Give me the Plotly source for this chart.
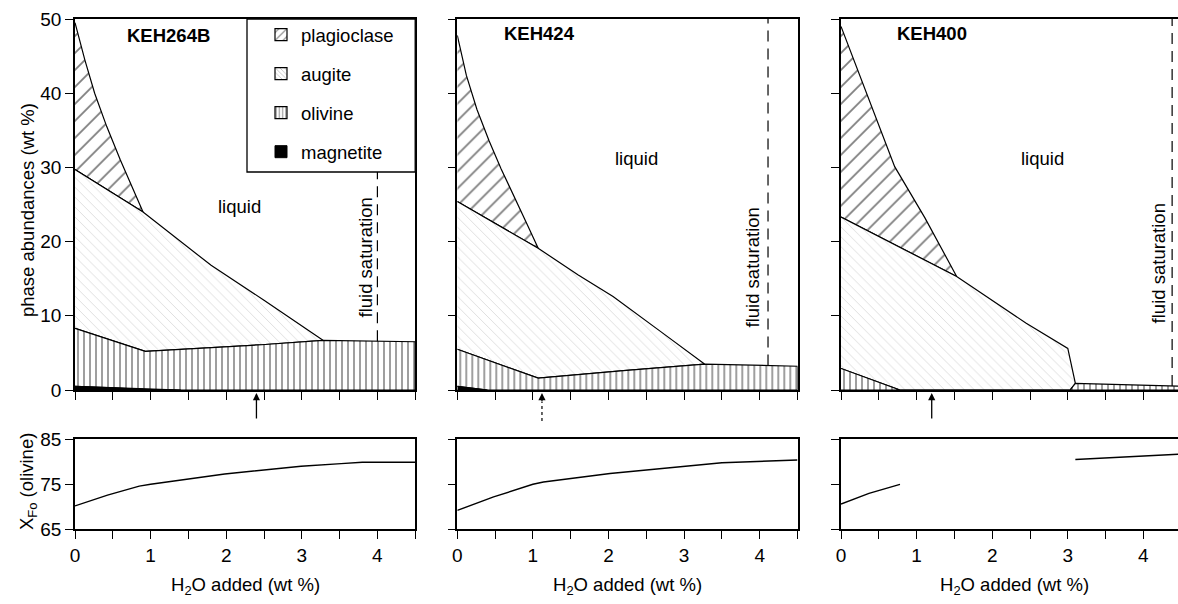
import numpy as np
import plotly.graph_objects as go

W, H = 1178, 604
FONT = "Liberation Sans, Arial, Helvetica, sans-serif"

# ---------------- data ----------------
# KEH264B (panel 1): boundary lines, cumulative wt %
p1_plag_x = [0, 0.13, 0.26, 0.42, 0.60, 0.90]
p1_plag_y = [49.5, 44.5, 40.0, 35.5, 31.0, 24.0]
p1_aug_x = [0, 0.90, 1.80, 2.50, 3.28]
p1_aug_y = [29.7, 24.0, 16.8, 12.1, 6.7]
p1_oli_x = [0, 0.93, 2.47, 3.28, 4.5]
p1_oli_y = [8.3, 5.2, 6.1, 6.7, 6.5]
p1_mag_x = [0, 0.5, 0.9, 1.4]
p1_mag_y = [0.5, 0.3, 0.1, 0.0]

# KEH424 (panel 2)
p2_plag_x = [0, 0.12, 0.26, 0.42, 0.58, 0.76, 0.92, 1.07]
p2_plag_y = [47.8, 42.4, 37.8, 33.6, 29.8, 26.0, 22.4, 19.1]
p2_aug_x = [0, 1.07, 1.60, 2.06, 2.70, 3.27]
p2_aug_y = [25.4, 19.1, 15.5, 12.6, 7.8, 3.5]
p2_oli_x = [0, 1.07, 2.20, 3.27, 4.5]
p2_oli_y = [5.5, 1.6, 2.6, 3.5, 3.2]
p2_mag_x = [0, 0.4]
p2_mag_y = [0.5, 0.0]

# KEH400 (panel 3)
p3_plag_x = [0, 0.35, 0.71, 1.11, 1.53]
p3_plag_y = [49.0, 39.8, 30.1, 23.2, 15.3]
p3_aug_x = [0, 1.53, 2.45, 3.00, 3.10]
p3_aug_y = [23.3, 15.3, 9.0, 5.6, 0.9]
p3_oli_x = [0, 0.78, 3.03, 3.10, 4.5]
p3_oli_y = [2.9, 0.0, 0.0, 0.9, 0.5]

zero_x = [0, 4.5]
zero_y = [0, 0]

# fluid saturation (wt % H2O) and arrow positions
fluid_sat = [4.00, 4.11, 4.38]
arrow_x = [2.40, 1.12, 1.20]

# X_Fo of olivine
fo1_x = [0, 0.43, 0.85, 1.0, 1.98, 2.99, 3.52, 3.8, 4.5]
fo1_y = [70.2, 72.6, 74.6, 75.0, 77.3, 79.0, 79.6, 79.9, 79.9]
fo2_x = [0, 0.48, 1.0, 1.14, 2.02, 3.0, 3.5, 4.5]
fo2_y = [69.2, 72.2, 75.0, 75.5, 77.4, 79.1, 79.8, 80.4]
fo3a_x = [0, 0.37, 0.78]
fo3a_y = [70.6, 73.0, 75.0]
fo3b_x = [3.1, 4.5]
fo3b_y = [80.5, 81.7]

sample_names = ["KEH264B", "KEH424", "KEH400"]
phase_names = ["plagioclase", "augite", "olivine", "magnetite"]
x_ticks = [0, 1, 2, 3, 4]
x_ticktext = ["0", "1", "2", "3", "4"]
y_ticks_top = [0, 10, 20, 30, 40, 50]
y_ticks_bot = [65, 75, 85]

# ---------------- styles ----------------
PAT = {
    "plagioclase": dict(shape="/", size=12, solidity=0.15, fgcolor="black", bgcolor="white"),
    "augite": dict(shape="\\", size=7, solidity=0.09, fgcolor="#9a9a9a", bgcolor="white"),
    "olivine": dict(shape="|", size=6, solidity=0.25, fgcolor="black", bgcolor="white"),
}
PAT_LEG = {
    "plagioclase": dict(shape="/", size=7, solidity=0.2, fgcolor="black", bgcolor="white"),
    "augite": dict(shape="\\", size=4, solidity=0.25, fgcolor="#777777", bgcolor="white"),
    "olivine": dict(shape="|", size=4, solidity=0.3, fgcolor="black", bgcolor="white"),
}


def band(ux, uy, lx, ly):
    x0, x1 = ux[0], ux[-1]
    lxs = [x0] + [x for x in lx if x0 < x < x1] + [x1]
    lys = list(np.interp(lxs, lx, ly))
    return list(ux) + lxs[::-1], list(uy) + lys[::-1]


fig = go.Figure()


def poly(ax, ux, uy, lx, ly, phase):
    px, py = band(ux, uy, lx, ly)
    kw = dict(x=px, y=py, xaxis="x" + ax, yaxis="y" + ax, mode="lines", fill="toself",
              line=dict(color="black", width=1.2), showlegend=False, hoverinfo="skip")
    if phase == "magnetite":
        kw["fillcolor"] = "black"
    else:
        kw["fillcolor"] = "white"
        kw["fillpattern"] = PAT[phase]
    fig.add_trace(go.Scatter(**kw))


# panel 1
poly("", p1_plag_x, p1_plag_y, p1_aug_x, p1_aug_y, "plagioclase")
poly("", p1_aug_x, p1_aug_y, p1_oli_x, p1_oli_y, "augite")
poly("", p1_oli_x, p1_oli_y, p1_mag_x, p1_mag_y, "olivine")
poly("", p1_mag_x, p1_mag_y, zero_x, zero_y, "magnetite")
# panel 2
poly("2", p2_plag_x, p2_plag_y, p2_aug_x, p2_aug_y, "plagioclase")
poly("2", p2_aug_x, p2_aug_y, p2_oli_x, p2_oli_y, "augite")
poly("2", p2_oli_x, p2_oli_y, p2_mag_x, p2_mag_y, "olivine")
poly("2", p2_mag_x, p2_mag_y, zero_x, zero_y, "magnetite")
# panel 3
poly("3", p3_plag_x, p3_plag_y, p3_aug_x, p3_aug_y, "plagioclase")
poly("3", p3_aug_x, p3_aug_y, p3_oli_x, p3_oli_y, "augite")
poly("3", p3_oli_x, p3_oli_y, zero_x, zero_y, "olivine")

# Fo lines
for ax, xs, ys in [("4", fo1_x, fo1_y), ("5", fo2_x, fo2_y), ("6", fo3a_x, fo3a_y), ("6", fo3b_x, fo3b_y)]:
    fig.add_trace(go.Scatter(x=xs, y=ys, xaxis="x" + ax, yaxis="y" + ax, mode="lines",
                             line=dict(color="black", width=1.4), showlegend=False, hoverinfo="skip"))

# legend entries (library legend)
for i, ph in enumerate(phase_names):
    if ph == "magnetite":
        mk = dict(color="black", line=dict(color="black", width=1))
    else:
        mk = dict(color="white", line=dict(color="black", width=1.2), pattern=PAT_LEG[ph])
    fig.add_trace(go.Bar(x=[None], y=[None], name=ph, marker=mk, legendgroup="g%d" % i,
                         xaxis="x", yaxis="y", showlegend=True, hoverinfo="skip"))

# ---------------- layout ----------------
def px2fx(p):
    return p / W


def py2fy(p):
    return 1 - p / H


unit = 75.6
xdoms = [(75, 75 + 4.5 * unit), (457.3, 457.3 + 4.5 * unit), (841, 1178)]
xranges = [[0, 4.5], [0, 4.5], [0, (1178 - 841) / unit]]
top_dom = [py2fy(390), py2fy(19)]
bot_dom = [py2fy(529.3), py2fy(439.3)]

tickfont = dict(family=FONT, size=19, color="black")
axis_common = dict(showline=True, linecolor="black", linewidth=1.5, mirror=True,
                   ticks="outside", ticklen=8, tickwidth=1.3, tickcolor="black",
                   showgrid=False, zeroline=False, fixedrange=True, tickfont=tickfont,
                   automargin=False)
x_minor = dict(dtick=0.5, tick0=0, ticks="outside", ticklen=8, tickwidth=1.3,
               tickcolor="black", showgrid=False)

layout = dict(width=W, height=H, margin=dict(l=0, r=0, t=0, b=0, pad=0, autoexpand=False),
              paper_bgcolor="white", plot_bgcolor="white", hovermode=False,
              barmode="overlay",
              legend=dict(x=px2fx(261), y=py2fy(16), xanchor="left", yanchor="top",
                          bgcolor="rgba(0,0,0,0)", borderwidth=0, tracegroupgap=12,
                          font=dict(family=FONT, size=18.5, color="black")))

for i in range(3):
    top = "" if i == 0 else str(i + 1)
    bot = str(i + 4)
    dom = [px2fx(xdoms[i][0]), px2fx(xdoms[i][1])]
    layout["xaxis" + top] = dict(domain=dom, range=xranges[i], anchor="y" + top,
                                 tickvals=x_ticks, showticklabels=False, minor=x_minor,
                                 **axis_common)
    layout["yaxis" + top] = dict(domain=top_dom, range=[0, 50], anchor="x" + top,
                                 tickvals=y_ticks_top, showticklabels=(i == 0), **axis_common)
    layout["xaxis" + bot] = dict(domain=dom, range=xranges[i], anchor="y" + bot,
                                 tickvals=x_ticks, ticktext=x_ticktext, minor=x_minor,
                                 **axis_common)
    layout["yaxis" + bot] = dict(domain=bot_dom, range=[65, 85], anchor="x" + bot,
                                 tickvals=y_ticks_bot, showticklabels=(i == 0), **axis_common)

fig.update_layout(**layout)

# shapes: fluid saturation lines, legend box
oli_tops = [(p1_oli_x, p1_oli_y), (p2_oli_x, p2_oli_y), (p3_oli_x, p3_oli_y)]
shapes = []
for i in range(3):
    ax = "" if i == 0 else str(i + 1)
    y0 = float(np.interp(fluid_sat[i], *oli_tops[i]))
    shapes.append(dict(type="line", xref="x" + ax, yref="y" + ax, x0=fluid_sat[i], x1=fluid_sat[i],
                       y0=y0, y1=50, line=dict(color="black", width=1.2, dash="11px,7px")))
shapes.append(dict(type="rect", xref="paper", yref="paper", x0=px2fx(247), x1=px2fx(xdoms[0][1]),
                   y0=py2fy(172), y1=py2fy(19), fillcolor="white",
                   line=dict(color="black", width=1.3), layer="above"))
# dotted shaft of the panel 2 arrow
shapes.append(dict(type="line", xref="x2", yref="paper", x0=arrow_x[1], x1=arrow_x[1],
                   y0=py2fy(421), y1=py2fy(402), line=dict(color="black", width=1.2, dash="dot")))
fig.update_layout(shapes=shapes)

ann = []
tf = dict(family=FONT, size=18.5, color="black")
C = dict(xanchor="center", yanchor="middle", showarrow=False, font=tf)
name_pos = [(1.24, 47.8), (1.09, 48.1), (1.2, 48.1)]
liquid_pos = [(2.18, 24.7), (2.37, 31.2), (2.67, 31.2)]
fluid_txt = [(3.84, 17.9), (3.91, 16.5), (4.20, 17.0)]
for i in range(3):
    ax = "" if i == 0 else str(i + 1)
    ann.append(dict(x=name_pos[i][0], y=name_pos[i][1], xref="x" + ax, yref="y" + ax,
                    text="<b>%s</b>" % sample_names[i], **C))
    ann.append(dict(x=liquid_pos[i][0], y=liquid_pos[i][1], xref="x" + ax, yref="y" + ax,
                    text="liquid", **C))
    ann.append(dict(x=fluid_txt[i][0], y=fluid_txt[i][1], xref="x" + ax, yref="y" + ax,
                    text="fluid saturation", textangle=-90, **C))
    # arrows
    ann.append(dict(x=arrow_x[i], y=py2fy(393), xref="x" + ax, yref="paper", text="",
                    showarrow=True, arrowhead=2, arrowsize=1.1, arrowwidth=1.3, arrowcolor="black",
                    ax=0, ay=(10 if i == 1 else 27)))
    # x-axis titles
    xc = (xdoms[i][0] + xdoms[i][1]) / 2 if i < 2 else 841 + 2.3 * unit
    ann.append(dict(x=px2fx(xc), y=py2fy(586), xref="paper", yref="paper",
                    text="H<sub>2</sub>O added (wt %)", **C))

ann.append(dict(x=px2fx(27), y=py2fy(210), xref="paper", yref="paper",
                text="phase abundances (wt %)", textangle=-90, **C))
ann.append(dict(x=px2fx(28), y=py2fy(482), xref="paper", yref="paper",
                text="X<sub>Fo</sub> (olivine)", textangle=-90, **C))
fig.update_layout(annotations=ann)

fig.write_html("out.html", config={"displayModeBar": False, "staticPlot": False},
               post_script="document.body.style.margin='0px';")
